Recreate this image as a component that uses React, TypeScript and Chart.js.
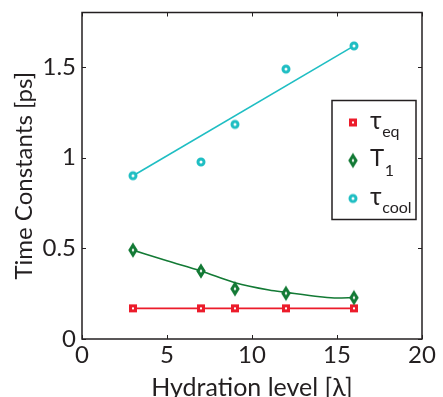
import React, { useEffect, useRef } from "react";
import { Chart, registerables } from "chart.js";

Chart.register(...registerables);

const hydration = [3, 7, 9, 12, 16];
const tauEq = [0.169, 0.169, 0.169, 0.169, 0.169];
const t1 = [0.49, 0.375, 0.277, 0.252, 0.228];
const tauCool = [0.9, 0.976, 1.183, 1.488, 1.616];

const t1FitX = [3, 5, 7, 9, 11, 12, 14, 15, 16];
const t1FitY = [0.49, 0.431, 0.375, 0.31, 0.27, 0.257, 0.233, 0.226, 0.228];
const coolFitX = [3, 16];
const coolFitY = [0.9, 1.616];

const xTicks = [0, 5, 10, 15, 20];
const yTicks = [0, 0.5, 1, 1.5];

const RED = "#ec1c2b";
const GREEN = "#137a35";
const CYAN = "#1fbec3";
const INK = "#231f20";
const FONT = "Lato, 'Open Sans', sans-serif";

function makeMarker(kind: "square" | "diamond" | "circle", color: string): HTMLCanvasElement {
  const c = document.createElement("canvas");
  c.width = 16;
  c.height = 18;
  const g = c.getContext("2d")!;
  const cx = 8, cy = 9;
  g.strokeStyle = color;
  g.fillStyle = "#ffffff";
  g.lineWidth = 3;
  g.beginPath();
  if (kind === "square") {
    g.rect(cx - 2.5, cy - 2.5, 5, 5);
  } else if (kind === "diamond") {
    g.moveTo(cx, cy - 4.8);
    g.lineTo(cx + 3, cy);
    g.lineTo(cx, cy + 4.8);
    g.lineTo(cx - 3, cy);
    g.closePath();
  } else {
    g.arc(cx, cy, 3, 0, Math.PI * 2);
  }
  g.fill();
  g.stroke();
  return c;
}

function toPts(xs: number[], ys: number[]) {
  return xs.map((x, i) => ({ x, y: ys[i] }));
}

export default function App() {
  const ref = useRef<HTMLCanvasElement | null>(null);

  useEffect(() => {
    document.body.style.margin = "0";
    const sq = makeMarker("square", RED);
    const di = makeMarker("diamond", GREEN);
    const ci = makeMarker("circle", CYAN);

    const framePlugin = {
      id: "frame",
      afterDraw(chart: any) {
        const { ctx, chartArea: a, scales } = chart;
        const xs = scales.x, ys = scales.y;
        ctx.save();
        ctx.strokeStyle = INK;
        ctx.lineWidth = 1.5;
        ctx.strokeRect(a.left, a.top, a.right - a.left, a.bottom - a.top);
        ctx.lineWidth = 1;
        const tl = 4;
        ctx.beginPath();
        xTicks.forEach((v) => {
          const p = Math.round(xs.getPixelForValue(v)) + 0.5;
          ctx.moveTo(p, a.bottom);
          ctx.lineTo(p, a.bottom - tl);
          ctx.moveTo(p, a.top);
          ctx.lineTo(p, a.top + tl);
        });
        yTicks.forEach((v) => {
          const p = Math.round(ys.getPixelForValue(v)) + 0.5;
          ctx.moveTo(a.left, p);
          ctx.lineTo(a.left + tl, p);
          ctx.moveTo(a.right, p);
          ctx.lineTo(a.right - tl, p);
        });
        ctx.stroke();

        // legend
        const lw = 84, lh = 119;
        const lx = a.right - 6 - lw;
        const ly = a.top + 88;
        ctx.fillStyle = "#ffffff";
        ctx.fillRect(lx, ly, lw, lh);
        ctx.lineWidth = 1.5;
        ctx.strokeStyle = INK;
        ctx.strokeRect(lx, ly, lw, lh);
        const entries = [
          { img: sq, main: "τ", sub: "eq", dy: 22, mainSize: 25, subDy: 9 },
          { img: di, main: "T", sub: "1", dy: 60, mainSize: 24, subDy: 10 },
          { img: ci, main: "τ", sub: "cool", dy: 98, mainSize: 25, subDy: 9 },
        ];
        entries.forEach((e) => {
          const my = ly + e.dy;
          ctx.drawImage(e.img, lx + 21 - 8, my - 9);
          ctx.fillStyle = INK;
          ctx.textBaseline = "middle";
          ctx.textAlign = "left";
          ctx.font = `${e.mainSize}px ${FONT}`;
          const tx = lx + 38;
          ctx.fillText(e.main, tx, my - 2);
          const w = ctx.measureText(e.main).width;
          ctx.font = `16px ${FONT}`;
          ctx.fillText(e.sub, tx + w + 0.5, my + e.subDy);
        });
        ctx.restore();
      },
    };

    const chart = new Chart(ref.current!, {
      type: "scatter",
      data: {
        datasets: [
          {
            label: "T1 fit",
            data: toPts(t1FitX, t1FitY),
            showLine: true,
            borderColor: GREEN,
            borderWidth: 1.6,
            pointRadius: 0,
            cubicInterpolationMode: "monotone",
            order: 5,
          },
          {
            label: "tau cool fit",
            data: toPts(coolFitX, coolFitY),
            showLine: true,
            borderColor: CYAN,
            borderWidth: 1.6,
            pointRadius: 0,
            order: 4,
          },
          {
            label: "τeq",
            data: toPts(hydration, tauEq),
            showLine: true,
            borderColor: RED,
            borderWidth: 1.6,
            pointStyle: sq,
            pointRadius: 4,
            order: 3,
          },
          {
            label: "T1",
            data: toPts(hydration, t1),
            showLine: false,
            borderColor: GREEN,
            pointStyle: di,
            pointRadius: 4,
            order: 2,
          },
          {
            label: "τcool",
            data: toPts(hydration, tauCool),
            showLine: false,
            borderColor: CYAN,
            pointStyle: ci,
            pointRadius: 4,
            order: 1,
          },
        ],
      },
      options: {
        animation: false,
        responsive: false,
        maintainAspectRatio: false,
        layout: { padding: { left: 0, right: 21, top: 12.5, bottom: 0 } },
        plugins: {
          legend: { display: false },
          tooltip: { enabled: false },
        },
        scales: {
          x: {
            type: "linear",
            min: 0,
            max: 20,
            afterFit: (s: any) => {
              s.height = 58;
              s.paddingLeft = 0;
              s.paddingRight = 0;
            },
            afterBuildTicks: (s: any) => {
              s.ticks = xTicks.map((v) => ({ value: v }));
            },
            grid: { display: false, drawTicks: false },
            border: { display: false },
            ticks: {
              color: INK,
              font: { family: FONT, size: 24 },
              padding: 2,
              callback: (v: any) => String(v),
            },
            title: {
              display: true,
              text: "Hydration level [λ]",
              color: INK,
              font: { family: FONT, size: 25, lineHeight: 1 },
              padding: { top: 0, bottom: -3 },
            },
          },
          y: {
            type: "linear",
            min: 0,
            max: 1.8,
            afterFit: (s: any) => {
              s.width = 82;
              s.paddingTop = 0;
              s.paddingBottom = 0;
            },
            afterBuildTicks: (s: any) => {
              s.ticks = yTicks.map((v) => ({ value: v }));
            },
            grid: { display: false, drawTicks: false },
            border: { display: false },
            ticks: {
              color: INK,
              font: { family: FONT, size: 24 },
              padding: 6,
              callback: (v: any) => String(v),
            },
            title: {
              display: true,
              text: "Time Constants [ps]",
              color: INK,
              font: { family: FONT, size: 24, lineHeight: 1 },
              padding: { top: 12, bottom: 0 },
            },
          },
        },
      },
      plugins: [framePlugin],
    } as any);

    return () => {
      chart.destroy();
    };
  }, []);

  return (
    <div style={{ position: "absolute", left: 0, top: 0, width: 443, height: 397 }}>
      <canvas ref={ref} width={443} height={397} style={{ width: 443, height: 397 }} />
    </div>
  );
}
